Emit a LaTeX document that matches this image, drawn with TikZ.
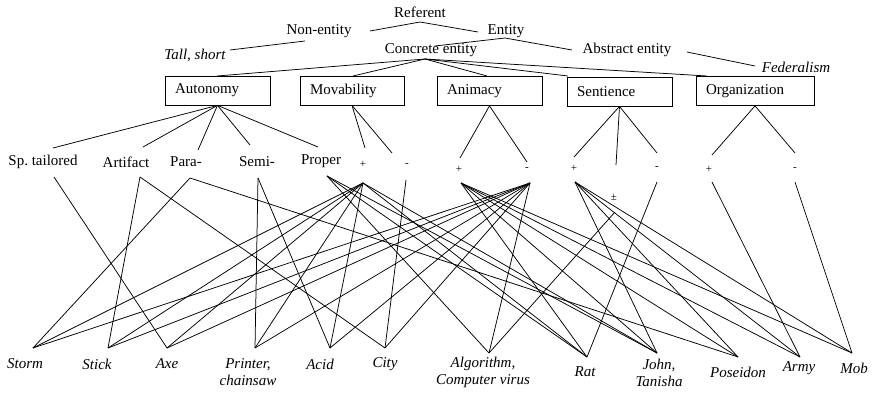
\documentclass[tikz,border=0pt]{standalone}
\usepackage{fontspec}
\setmainfont{Liberation Serif}
\begin{document}
\begin{tikzpicture}[x=1pt,y=-1pt,
  lbl/.style={font=\fontsize{15}{17}\selectfont, inner sep=0pt},
  itl/.style={font=\fontsize{15}{17}\selectfont\itshape, inner sep=0pt, align=center},
  pm/.style={font=\fontsize{11}{12}\selectfont, inner sep=0pt},
  box/.style={draw, line width=0.8pt, minimum height=29pt, text width=#1, inner xsep=10pt, inner ysep=0pt, align=left, font=\fontsize{15}{17}\selectfont},
  ln/.style={line width=0.75pt}]
\useasboundingbox (0,0) rectangle (875,398);
% top tree
\node[lbl] (ref) at (420,12) {Referent};
\node[lbl] (non) at (319,31) {Non-entity};
\node[lbl] (ent) at (506,31) {Entity};
\node[itl] (tall) at (195,55) {Tall, short};
\node[lbl] (con) at (431,50) {Concrete entity};
\node[lbl] (abs) at (627,50) {Abstract entity};
\node[itl] (fed) at (796,67) {Federalism};
\coordinate (refA) at (420,22);
\coordinate (nonR) at (370,31);
\coordinate (entL) at (478,32);
\coordinate (nonB) at (305,41);
\coordinate (tallR) at (230,50);
\coordinate (entA) at (505,38);
\coordinate (conR) at (435,46);
\coordinate (absL) at (572,50);
\coordinate (absR) at (687,52);
\coordinate (fedL) at (755,66);
\coordinate (conA) at (425,59);
\draw[ln] (nonR) -- (refA) -- (entL);
\draw[ln] (nonB) -- (tallR);
\draw[ln] (conR) -- (entA) -- (absL);
\draw[ln] (absR) -- (fedL);
% boxes
\node[box=85pt] (aut) at (217.5,90.5) {Autonomy};
\node[box=84pt] (mov) at (352,90.5) {Movability};
\node[box=85pt] (ani) at (489.5,91) {Animacy};
\node[box=85pt] (sen) at (619.5,91.5) {Sentience};
\node[box=98pt] (org) at (755,91) {Organization};
\foreach \b/\x in {aut/217,mov/353,ani/487,sen/568,org/707}
  \draw[ln] (conA) -- (\x,76);
% values
\node[lbl] (sp) at (43,162) {Sp.\ tailored};
\node[lbl] (ar) at (126,162) {Artifact};
\node[lbl] (pa) at (186,162) {Para-};
\node[lbl] (se) at (257,162) {Semi-};
\node[lbl] (pr) at (321,161) {Proper};
\node[pm] (mp) at (363,164) {+};
\node[pm] (mm) at (407,165) {-};
\node[pm] (ap) at (459,169) {+};
\node[pm] (am) at (527,169) {-};
\node[pm] (sp2) at (574,168) {+};
\node[pm] (spm) at (614,197) {±};
\node[pm] (sm) at (657,168) {-};
\node[pm] (op) at (709,169) {+};
\node[pm] (om) at (795,169) {-};
% value connection points
\foreach \n/\tx/\ty/\bx/\by in {sp/53/148/54/177, ar/143/147/140/177, pa/198/150/190/178, se/250/145/258/178, pr/318/147/327/176,
  mp/365/148/363/183, mm/392/153/406/180, ap/460/158/461/183, am/527/162/530/183,
  sp2/574/157/575/182, spm/616/165/615/212, sm/657/153/657/182, op/712/155/712/182, om/795/153/795/182}
{ \coordinate (\n T) at (\tx,\ty); \coordinate (\n B) at (\bx,\by); }
\foreach \n in {sp,ar,pa,se,pr} \draw[ln] (aut.south) -- (\n T);
\foreach \n in {mp,mm} \draw[ln] (mov.south) -- (\n T);
\foreach \n in {ap,am} \draw[ln] (ani.south) -- (\n T);
\foreach \n in {sp2,spm,sm} \draw[ln] (sen.south) -- (\n T);
\foreach \n in {op,om} \draw[ln] (org.south) -- (\n T);
% bottom items
\node[itl] (storm) at (25,364) {Storm};
\node[itl] (stick) at (97,364) {Stick};
\node[itl] (axe) at (167,364) {Axe};
\node[itl] (prin) at (248,372) {Printer,\\chainsaw};
\node[itl] (acid) at (320,364) {Acid};
\node[itl] (city) at (385,364) {City};
\node[itl] (algo) at (483,372) {Algorithm,\\Computer virus};
\node[itl] (rat) at (585,372) {Rat};
\node[itl] (john) at (659,373) {John,\\Tanisha};
\node[itl] (pos) at (738,372) {Poseidon};
\node[itl] (army) at (799,368) {Army};
\node[itl] (mob) at (854,368) {Mob};
\foreach \n/\x/\y in {storm/33/348, stick/108/348, axe/167/348, prin/255/348, acid/330/348, city/385/348,
  algo/489/353, rat/587/357, john/657/353, pos/738/357, army/800/357, mob/852/353}
  \coordinate (\n T) at (\x,\y);
% connections
\foreach \a/\b in {sp/axe, ar/stick, ar/city, pa/storm, pa/pos, se/prin, se/acid,
  pr/algo, pr/rat, pr/john,
  mp/storm, mp/stick, mp/axe, mp/prin, mp/acid, mp/rat, mp/john,
  mm/city,
  ap/rat, ap/john, ap/pos, ap/army, ap/mob,
  am/storm, am/stick, am/axe, am/prin, am/acid, am/city, am/algo,
  sp2/john, sp2/pos, sp2/army, sp2/mob,
  spm/algo, sm/rat, op/army, om/mob}
  \draw[ln] (\a B) -- (\b T);
\end{tikzpicture}
\end{document}
